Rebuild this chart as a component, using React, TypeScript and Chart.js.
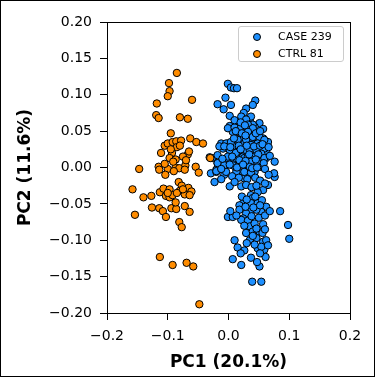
import React, { useEffect, useRef } from 'react';
import { Chart, registerables } from 'chart.js';

Chart.register(...registerables);

const caseLabel = 'CASE 239';
const ctrlLabel = 'CTRL 81';
const xTitle = 'PC1 (20.1%)';
const yTitle = 'PC2 (11.6%)';
const xRange = [-0.2, 0.2];
const yRange = [-0.2, 0.2];
const xStep = 0.1;
const yStep = 0.05;
const caseColor = '#1E90FF';
const ctrlColor = '#FF8C00';

// [PC1, PC2] scores
const caseScores: [number, number][] = [
  [-0.001,0.115],[0.004,0.110],[0.009,0.109],[0.014,0.109],[-0.005,0.096],[-0.018,0.087],[-0.008,0.080],[0.004,0.086],[0.002,0.071],[0.044,0.092],
  [0.040,0.086],[0.029,0.081],[0.025,0.075],[0.035,0.065],[0.017,0.058],[0.002,0.057],[0.051,0.061],[0.043,0.056],[0.007,0.049],[0.018,0.040],
  [0.035,0.050],[0.057,0.040],[0.065,0.035],[-0.012,0.033],[-0.001,0.033],[0.010,0.029],[0.021,0.038],[0.037,0.035],[0.048,0.031],[0.057,0.024],
  [-0.009,0.026],[0.004,0.022],[0.024,0.022],[0.043,0.022],[0.062,0.022],[0.076,0.008],[-0.018,0.006],[-0.001,0.010],[0.013,0.013],[0.024,0.015],
  [0.035,0.006],[0.051,0.010],[0.062,0.013],[-0.004,0.003],[0.007,0.006],[0.018,0.006],[0.029,0.003],[0.040,0.006],[0.054,0.008],[-0.029,-0.008],
  [-0.020,-0.006],[-0.007,-0.010],[0.013,-0.003],[0.021,-0.008],[0.029,-0.003],[0.035,-0.010],[0.043,-0.006],[0.054,0.001],[-0.023,-0.020],[0.002,-0.026],
  [0.021,-0.026],[0.026,-0.015],[0.076,-0.013],[0.065,-0.024],[0.057,-0.031],[0.048,-0.034],[0.037,-0.038],[0.040,-0.042],[0.024,-0.049],[0.018,-0.052],
  [0.037,-0.049],[0.048,-0.049],[0.062,-0.054],[0.054,-0.061],[0.046,-0.058],[0.035,-0.061],[0.018,-0.058],[0.029,-0.063],[0.024,-0.070],[0.085,-0.060],
  [-0.001,-0.068],[0.007,-0.068],[0.021,-0.072],[0.032,-0.073],[0.035,-0.081],[0.043,-0.077],[0.057,-0.078],[0.098,-0.079],[0.100,-0.098],[0.029,-0.090],
  [0.040,-0.088],[0.051,-0.088],[0.035,-0.100],[0.046,-0.097],[0.057,-0.102],[0.048,-0.111],[0.062,-0.100],[0.059,-0.113],[0.054,-0.109],[0.015,-0.110],
  [0.026,-0.114],[0.007,-0.126],[0.021,-0.134],[0.051,-0.136],[0.061,-0.123],[0.039,-0.157],[0.054,-0.157],[-0.015,0.029],[-0.031,0.014],[-0.027,0.013],
  [-0.020,-0.003],[0.021,0.070],[0.037,0.070],[0.029,0.066],[0.040,0.059],[0.032,0.059],[-0.001,0.054],[0.010,0.055],[0.021,0.056],[0.032,0.052],
  [0.040,0.054],[-0.004,0.033],[0.004,0.035],[0.015,0.038],[0.026,0.033],[0.037,0.038],[0.002,0.024],[0.015,0.022],[0.029,0.024],[0.040,0.023],
  [-0.007,0.029],[-0.018,0.017],[-0.001,0.015],[0.013,0.013],[0.026,0.013],[0.037,0.013],[-0.018,0.006],[-0.007,0.003],[0.007,0.003],[0.021,0.004],
  [0.032,0.001],[0.040,0.003],[-0.020,-0.005],[-0.004,-0.006],[0.013,-0.006],[0.026,-0.006],[0.037,-0.007],[0.057,0.053],[0.032,0.049],[0.040,0.042],
  [0.051,0.042],[0.059,0.038],[0.029,0.038],[0.037,0.031],[0.048,0.033],[0.059,0.026],[0.035,0.024],[0.046,0.024],[0.054,0.019],[0.032,0.015],
  [0.043,0.015],[0.059,0.013],[0.037,0.008],[0.048,0.006],[0.054,0.001],[0.035,0.001],[0.075,-0.008],
  [0.010,0.065],[0.020,0.062],[0.027,0.058],[0.012,0.050],[0.022,0.047],[0.028,0.044],[0.045,0.047],[0.052,0.050],[0.009,0.040],[0.030,0.030],
  [0.017,0.030],[0.042,0.029],[0.052,0.030],[0.003,0.028],[0.012,0.020],[0.020,0.025],[0.034,0.018],[0.049,0.018],[0.056,0.032],[0.066,0.028],
  [0.006,0.015],[0.018,0.010],[0.028,0.009],[0.045,0.011],[0.058,0.006],[0.068,0.016],[0.002,0.004],[0.014,0.000],[0.024,0.004],[0.039,-0.001],
  [0.047,0.000],[0.060,-0.002],[-0.010,0.012],[-0.012,-0.002],[0.006,-0.012],[0.017,-0.014],[0.031,-0.016],[0.044,-0.014],[0.052,-0.018],[0.066,-0.010],
  [-0.012,-0.016],[0.010,-0.020],[0.029,-0.024],[0.038,-0.027],[0.060,-0.022],[0.046,-0.025],
  [0.022,-0.040],[0.030,-0.044],[0.044,-0.040],[0.055,-0.045],[0.028,-0.054],[0.041,-0.055],[0.052,-0.052],[0.013,-0.066],[0.038,-0.067],[0.050,-0.069],
  [0.060,-0.066],[0.026,-0.080],[0.046,-0.084],[0.056,-0.090],[0.040,-0.094],[0.030,-0.104],[0.043,-0.106],[0.052,-0.118],[0.037,-0.124],[0.065,-0.107],
  [0.003,-0.060],[0.068,-0.060],[0.010,-0.100],[0.020,-0.118],[0.060,-0.085],[0.047,-0.130],
];

const ctrlScores: [number, number][] = [
  [-0.085,0.130],[-0.098,0.116],[-0.097,0.105],[-0.100,0.098],[-0.118,0.088],[-0.060,0.093],[-0.119,0.072],[-0.115,0.068],[-0.080,0.069],[-0.067,0.067],
  [-0.095,0.047],[-0.105,0.030],[-0.100,0.033],[-0.092,0.035],[-0.086,0.036],[-0.078,0.037],[-0.063,0.040],[-0.053,0.035],[-0.042,0.033],[-0.111,0.020],
  [-0.093,0.020],[-0.085,0.028],[-0.067,0.018],[-0.065,0.022],[-0.097,0.013],[-0.087,0.011],[-0.147,-0.002],[-0.115,0.001],[-0.114,-0.003],[-0.100,-0.002],
  [-0.104,-0.010],[-0.087,0.000],[-0.081,-0.001],[-0.071,0.003],[-0.072,-0.003],[-0.054,0.001],[-0.049,-0.007],[-0.091,0.008],[-0.158,-0.030],[-0.140,-0.041],
  [-0.127,-0.039],[-0.113,-0.034],[-0.107,-0.029],[-0.097,-0.030],[-0.082,-0.020],[-0.077,-0.025],[-0.066,-0.028],[-0.080,-0.032],[-0.072,-0.037],[-0.061,-0.033],
  [-0.103,-0.039],[-0.097,-0.041],[-0.092,-0.038],[-0.064,-0.038],[-0.154,-0.065],[-0.126,-0.055],[-0.114,-0.056],[-0.108,-0.060],[-0.103,-0.068],[-0.094,-0.056],
  [-0.086,-0.057],[-0.087,-0.048],[-0.072,-0.053],[-0.064,-0.061],[-0.081,-0.075],[-0.077,-0.082],[-0.113,-0.123],[-0.092,-0.134],[-0.069,-0.131],[-0.058,-0.136],
  [-0.048,-0.188],[-0.030,0.013],[-0.095,0.025],[-0.080,0.030],[-0.075,0.015],[-0.090,-0.005],[-0.070,0.010],[-0.100,-0.035],[-0.085,-0.035],[-0.075,-0.030],
  [-0.105,0.005],
];

const FONT = "'DejaVu Sans', sans-serif";
const fmt = (v: number, d: number) => {
  const s = Math.abs(v) < 1e-9 ? (0).toFixed(d) : v.toFixed(d);
  return s.replace('-', '\u2212');
};

const framePlugin = {
  id: 'frame',
  afterDraw(chart: any) {
    const { ctx, chartArea } = chart;
    const l = Math.round(chartArea.left) + 0.5;
    const t = Math.round(chartArea.top) + 0.5;
    const r = Math.round(chartArea.right) + 0.5;
    const b = Math.round(chartArea.bottom) + 0.5;
    ctx.save();
    ctx.strokeStyle = '#000';
    ctx.lineWidth = 1;
    ctx.strokeRect(l, t, r - l, b - t);
    ctx.restore();
  },
};

export default function App() {
  const ref = useRef<HTMLCanvasElement | null>(null);
  useEffect(() => {
    if (!ref.current) return;
    const toPts = (arr: [number, number][]) => arr.map(([x, y]) => ({ x, y }));
    const tickFont = { family: FONT, size: 14 };
    const titleFont = { family: FONT, size: 17, weight: 'bold' as const };
    const chart = new Chart(ref.current, {
      type: 'scatter',
      data: {
        datasets: [
          {
            label: caseLabel,
            data: toPts(caseScores),
            backgroundColor: caseColor,
            borderColor: '#000',
            borderWidth: 1,
            pointRadius: 3.7,
            order: 2,
          },
          {
            label: ctrlLabel,
            data: toPts(ctrlScores),
            backgroundColor: ctrlColor,
            borderColor: '#000',
            borderWidth: 1,
            pointRadius: 3.7,
            order: 1,
          },
        ],
      },
      options: {
        responsive: false,
        animation: false,
        devicePixelRatio: 1,
        layout: { padding: { top: 22, right: 26, left: 0, bottom: 0 } },
        plugins: { legend: { display: false }, tooltip: { enabled: false } },
        scales: {
          x: {
            type: 'linear',
            min: xRange[0],
            max: xRange[1],
            ticks: { stepSize: xStep, font: tickFont, color: '#000', padding: 8, callback: (v: any) => fmt(Number(v), 1) },
            grid: { display: true, drawOnChartArea: false, drawTicks: true, tickLength: 7, color: '#000', lineWidth: 1 },
            border: { display: false },
            title: { display: true, text: xTitle, font: titleFont, color: '#000', padding: { top: 0, bottom: 6 } },
            afterFit: (s: any) => { s.height = 66; },
          },
          y: {
            type: 'linear',
            min: yRange[0],
            max: yRange[1],
            ticks: { stepSize: yStep, font: tickFont, color: '#000', padding: 8, callback: (v: any) => fmt(Number(v), 2) },
            grid: { display: true, drawOnChartArea: false, drawTicks: true, tickLength: 7, color: '#000', lineWidth: 1 },
            border: { display: false },
            title: { display: true, text: yTitle, font: titleFont, color: '#000', padding: { top: 15, bottom: 0 } },
            afterFit: (s: any) => { s.width = 107; },
          },
        },
      },
      plugins: [framePlugin],
    });
    return () => chart.destroy();
  }, []);

  const legendRow = (color: string, label: string) => (
    <div style={{ display: 'flex', alignItems: 'center', height: 17 }}>
      <span style={{ display: 'inline-block', width: 6, height: 6, borderRadius: '50%', background: color, border: '1px solid #000', marginLeft: 14, marginRight: 17 }} />
      <span>{label}</span>
    </div>
  );

  return (
    <div style={{ position: 'fixed', left: 0, top: 0, width: 376, height: 379, background: '#fff' }}>
      <canvas ref={ref} width={376} height={379} style={{ position: 'absolute', left: 0, top: 0, width: 376, height: 379 }} />
      <div style={{ position: 'absolute', left: 0, top: 0, width: 375, height: 377, border: '1px solid #000', boxSizing: 'border-box', pointerEvents: 'none' }} />
      <div style={{ position: 'absolute', left: 238, top: 26, width: 106, height: 36, boxSizing: 'border-box', border: '1px solid #cccccc', borderRadius: 3, background: 'rgba(255,255,255,0.8)', fontFamily: FONT, fontSize: 11, color: '#000', paddingTop: 1 }}>
        {legendRow(caseColor, caseLabel)}
        {legendRow(ctrlColor, ctrlLabel)}
      </div>
    </div>
  );
}
